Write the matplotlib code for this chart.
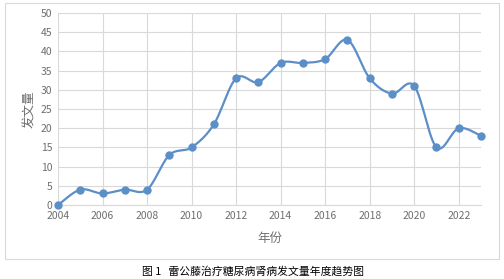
import matplotlib
matplotlib.use("Agg")
import matplotlib.pyplot as plt
from matplotlib.patches import Rectangle
import numpy as np

plt.rcParams['font.family'] = ['Noto Sans CJK SC', 'DejaVu Sans']

# data
years = [2004, 2005, 2006, 2007, 2008, 2009, 2010, 2011, 2012, 2013,
         2014, 2015, 2016, 2017, 2018, 2019, 2020, 2021, 2022, 2023]
counts = [0, 4, 3, 4, 4, 13, 15, 21, 33, 32,
          37, 37, 38, 43, 33, 29, 31, 15, 20, 18]
xticks = [2004, 2006, 2008, 2010, 2012, 2014, 2016, 2018, 2020, 2022]
yticks = [0, 5, 10, 15, 20, 25, 30, 35, 40, 45, 50]


def smooth_curve(x, y, steps=30):
    # Excel-like smoothed line: cubic Bezier segments with Catmull-Rom control points
    x = np.asarray(x, float)
    y = np.asarray(y, float)
    px = np.concatenate([[x[0]], x, [x[-1]]])
    py = np.concatenate([[y[0]], y, [y[-1]]])
    xs, ys = [], []
    t = np.linspace(0, 1, steps)
    for i in range(1, len(px) - 2):
        p0 = np.array([px[i], py[i]])
        p3 = np.array([px[i + 1], py[i + 1]])
        c1 = p0 + (np.array([px[i + 1], py[i + 1]]) - np.array([px[i - 1], py[i - 1]])) / 6
        c2 = p3 - (np.array([px[i + 2], py[i + 2]]) - np.array([px[i], py[i]])) / 6
        b = ((1 - t) ** 3)[:, None] * p0 + (3 * (1 - t) ** 2 * t)[:, None] * c1 \
            + (3 * (1 - t) * t ** 2)[:, None] * c2 + (t ** 3)[:, None] * p3
        xs.extend(b[:, 0])
        ys.extend(b[:, 1])
    return xs, ys


fig = plt.figure(figsize=(5.04, 2.79), dpi=100)
fig.patches.append(Rectangle((5 / 504, 1 - 259 / 279), 494 / 504, 256 / 279,
                             transform=fig.transFigure, fill=False,
                             edgecolor='#d9d9d9', linewidth=0.8))

ax = fig.add_axes([58 / 504, 1 - 205 / 279, 423 / 504, 192 / 279])

sx, sy = smooth_curve(years, counts)
ax.plot(sx, sy, color='#5b8fc7', linewidth=1.6, zorder=3, clip_on=False)
ax.plot(years, counts, 'o', color='#5b8fc7', markersize=5, zorder=4, clip_on=False)

ax.set_xlim(2004, 2023)
ax.set_ylim(0, 50)
ax.set_xticks(xticks)
ax.set_yticks(yticks)
ax.grid(True, color='#d9d9d9', linewidth=0.8)
ax.set_axisbelow(True)
for s in ['top', 'right', 'left']:
    ax.spines[s].set_visible(False)
ax.spines['bottom'].set_color('#d9d9d9')
ax.tick_params(length=0, labelsize=7.5, labelcolor='#6e6e6e', pad=4)

ax.set_xlabel('年份', fontsize=9, color='#6e6e6e', labelpad=8)
ax.set_ylabel('发文量', fontsize=9, color='#6e6e6e', labelpad=3)

fig.text(0.502, 1 - 272 / 279, '图 1   雷公藤治疗糖尿病肾病发文量年度趋势图',
         ha='center', va='center', fontsize=7.8, color='#000000')

fig.savefig('out.png', dpi=100)
